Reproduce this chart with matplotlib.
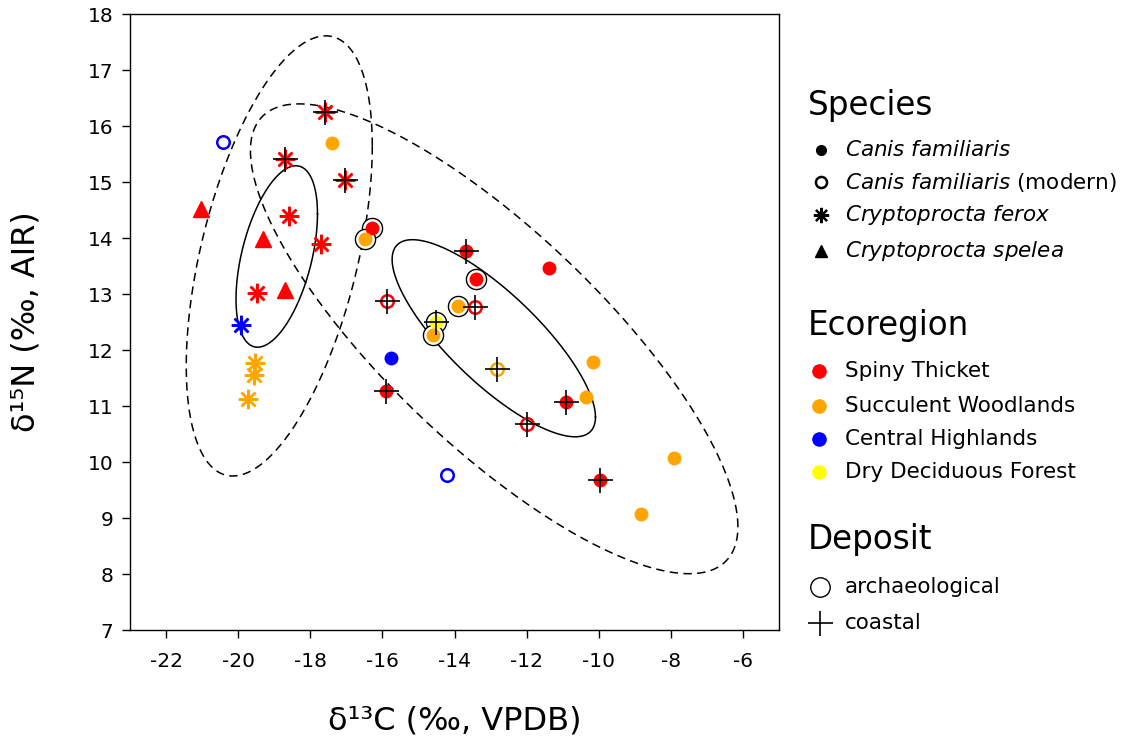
import numpy as np
import matplotlib
matplotlib.use("Agg")
from matplotlib import pyplot as plt

plt.rcParams['font.family'] = 'DejaVu Sans'
plt.rcParams['axes.unicode_minus'] = False
plt.rcParams['mathtext.fontset'] = 'dejavusans'

# isotope values
d13C = [-17.6, -17.4, -20.41, -18.71, -17.04, -21.02, -18.6, -19.3, -17.71,
        -16.29, -16.48, -19.49, -18.71, -19.91, -19.52, -19.57, -19.74,
        -13.67, -13.39, -15.87, -13.89, -13.44, -14.5, -14.59, -15.76,
        -12.83, -10.15, -10.91, -10.35, -11.99, -14.2, -7.92, -9.96, -8.84,
        -15.9, -11.38]
d15N = [16.25, 15.7, 15.71, 15.41, 15.03, 14.52, 14.39, 13.98, 13.89,
        14.18, 13.98, 13.02, 13.07, 12.45, 11.77, 11.55, 11.12,
        13.77, 13.27, 12.88, 12.79, 12.77, 12.5, 12.27, 11.85,
        11.66, 11.78, 11.07, 11.16, 10.68, 9.77, 10.08, 9.68, 9.07,
        11.27, 13.46]
# cf = Canis familiaris, cfm = modern, fer = C. ferox, spe = C. spelea
species = ['fer', 'cf', 'cfm', 'fer', 'fer', 'spe', 'fer', 'spe', 'fer',
           'cf', 'cf', 'fer', 'spe', 'fer', 'fer', 'fer', 'fer',
           'cf', 'cf', 'cfm', 'cf', 'cfm', 'cf', 'cf', 'cf',
           'cfm', 'cf', 'cf', 'cf', 'cfm', 'cfm', 'cf', 'cf', 'cf',
           'cf', 'cf']
ecoregion = ['ST', 'SW', 'CH', 'ST', 'ST', 'ST', 'ST', 'ST', 'ST',
             'ST', 'SW', 'ST', 'ST', 'CH', 'SW', 'SW', 'SW',
             'ST', 'ST', 'ST', 'SW', 'ST', 'DDF', 'SW', 'CH',
             'SW', 'SW', 'ST', 'SW', 'ST', 'CH', 'SW', 'ST', 'SW',
             'ST', 'ST']
archaeological = [0, 0, 0, 0, 0, 0, 0, 0, 0,
                  1, 1, 0, 0, 0, 0, 0, 0,
                  0, 1, 0, 1, 0, 1, 1, 0,
                  0, 0, 0, 0, 0, 0, 0, 0, 0,
                  0, 0]
coastal = [1, 0, 0, 1, 1, 0, 0, 0, 0,
           0, 0, 0, 0, 0, 0, 0, 0,
           1, 0, 1, 0, 1, 1, 0, 0,
           1, 0, 1, 0, 1, 0, 0, 1, 0,
           1, 0]

# ellipses: centre x, centre y, half width, half height, correlation
ell_cx = [-18.93, -18.86, -12.91, -12.9]
ell_cy = [13.67, 13.68, 12.21, 12.2]
ell_sx = [1.13, 2.58, 2.82, 6.76]
ell_sy = [1.62, 3.93, 1.76, 4.195]
ell_rho = [0.47, 0.50, -0.80, -0.80]
ell_style = ['-', '--', '-', '--']

species_names = [r'$\mathit{Canis\ familiaris}$', r'$\mathit{Canis\ familiaris}$ (modern)',
                 r'$\mathit{Cryptoprocta\ ferox}$', r'$\mathit{Cryptoprocta\ spelea}$']
eco_names = ['Spiny Thicket', 'Succulent Woodlands', 'Central Highlands', 'Dry Deciduous Forest']
eco_keys = ['ST', 'SW', 'CH', 'DDF']
eco_colors = {'ST': '#FF0000', 'SW': '#FFA500', 'CH': '#0000FF', 'DDF': '#FFFF00'}
deposit_names = ['archaeological', 'coastal']

fig = plt.figure(figsize=(11.24, 7.38), dpi=100)
ax = fig.add_axes([130/1124, 1-630/738, 649/1124, 616/738])

t = np.linspace(0, 2*np.pi, 400)
for i in range(len(ell_cx)):
	ex = ell_cx[i] + ell_sx[i]*np.cos(t)
	ey = ell_cy[i] + ell_sy[i]*(ell_rho[i]*np.cos(t) + np.sqrt(1-ell_rho[i]**2)*np.sin(t))
	if ell_style[i] == '--':
		ax.plot(ex, ey, color='black', lw=1.1, dashes=(5.5, 3.5), zorder=1)
	else:
		ax.plot(ex, ey, color='black', lw=1.1, zorder=1)

# archaeological rings first, then points, then coastal crosses
for i in range(len(d13C)):
	if archaeological[i]:
		ax.plot(d13C[i], d15N[i], marker='o', ms=14.5, mfc='white', mec='black',
		        mew=1.0, ls='none', zorder=2)

for i in range(len(d13C)):
	c = eco_colors[ecoregion[i]]
	sp = species[i]
	if sp == 'cf':
		ax.plot(d13C[i], d15N[i], marker='o', ms=9, color=c, ls='none', zorder=3)
	elif sp == 'cfm':
		ax.plot(d13C[i], d15N[i], marker='o', ms=9, mfc='none', mec=c, mew=1.8, ls='none', zorder=3)
	elif sp == 'fer':
		ax.plot(d13C[i], d15N[i], marker=(8, 2, 0), ms=14, color=c, mew=1.8, ls='none', zorder=3)
	else:
		ax.plot(d13C[i], d15N[i], marker='^', ms=11, color=c, ls='none', zorder=3)

for i in range(len(d13C)):
	if coastal[i]:
		ax.plot(d13C[i], d15N[i], marker='+', ms=18, color='black', mew=1.2, ls='none', zorder=4)

ax.set_xlim(-23, -5)
ax.set_ylim(7, 18)
ax.set_xticks(np.arange(-22, -5, 2))
ax.set_yticks(np.arange(7, 19, 1))
ax.tick_params(labelsize=14.5, length=6, width=1)
ax.tick_params(axis='x', pad=10)
ax.tick_params(axis='y', pad=6)
for s in ax.spines.values():
	s.set_linewidth(1.0)
ax.set_xlabel('δ¹³C (‰, VPDB)', fontsize=23, labelpad=25)
ax.set_ylabel('δ¹⁵N (‰, AIR)', fontsize=23, labelpad=33)

# legend area, laid out in pixel units
lax = fig.add_axes([0, 0, 1, 1])
lax.set_xlim(0, 1124)
lax.set_ylim(738, 0)
lax.axis('off')

mx = 821
tx = 845
title_kw = dict(fontsize=23.5, va='center', ha='left')
item_kw = dict(fontsize=15.5, va='center', ha='left')

lax.text(808, 105, 'Species', **title_kw)
sp_y = [150, 182, 215, 251]
lax.plot(mx, sp_y[0], marker='o', color='black', ms=7)
lax.plot(mx, sp_y[1], marker='o', mfc='none', mec='black', mew=1.8, ms=8)
lax.plot(mx, sp_y[2], marker=(8, 2, 0), color='black', mew=1.6, ms=11)
lax.plot(mx, sp_y[3], marker='^', color='black', ms=8)
for i in range(len(species_names)):
	lax.text(tx, sp_y[i], species_names[i], **item_kw)

lax.text(808, 326, 'Ecoregion', **title_kw)
eco_y = [371, 406, 439, 472]
for i in range(len(eco_keys)):
	lax.plot(819, eco_y[i], marker='o', color=eco_colors[eco_keys[i]], ms=9.5)
	lax.text(tx, eco_y[i], eco_names[i], **item_kw)

lax.text(808, 540, 'Deposit', **title_kw)
dep_y = [587, 623]
lax.plot(820, dep_y[0], marker='o', mfc='none', mec='black', mew=1.0, ms=14)
lax.plot(820, dep_y[1], marker='+', color='black', mew=1.2, ms=18)
for i in range(len(deposit_names)):
	lax.text(tx, dep_y[i], deposit_names[i], **item_kw)

fig.savefig('out.png', dpi=100)
